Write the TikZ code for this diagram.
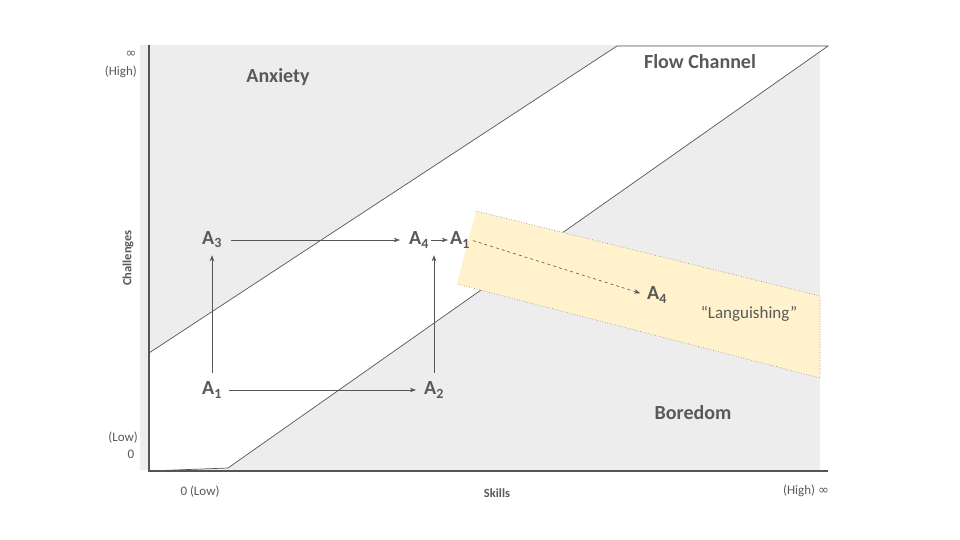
\documentclass[tikz,border=0pt]{standalone}
\usepackage{fontspec}
\setmainfont{Carlito}
\newfontfamily\symfont{DejaVu Sans}
\usetikzlibrary{positioning,arrows.meta}
\definecolor{FlowGray}{RGB}{237,237,237}
\definecolor{FlowText}{RGB}{89,89,89}
\definecolor{FlowLine}{RGB}{85,85,85}
\definecolor{LangYellow}{RGB}{255,242,204}

\begin{document}
\begin{tikzpicture}[
    x=1pt, y=-1pt,
    zone/.style={
        font=\fontsize{20}{22}\selectfont\bfseries,
        text=FlowText
    },
    state/.style={
        font=\fontsize{20}{22}\selectfont\bfseries,
        text=FlowText,
        inner sep=1pt
    },
    axlabel/.style={
        font=\fontsize{13}{14}\selectfont,
        text=FlowText,
        inner sep=1pt
    },
    axtitle/.style={
        font=\fontsize{12.5}{14}\selectfont\bfseries,
        text=FlowText,
        inner sep=1pt
    },
    move/.style={
        -{Stealth[length=6pt,width=4.5pt]},
        draw=FlowLine,
        line width=0.6pt
    }
]

\useasboundingbox (0,0) rectangle (960,540);
\fill[white] (0,0) rectangle (960,540);

% regions
\fill[FlowGray] (140,45) rectangle (820,470);
\fill[white] (149,353) -- (617,46) -- (828,46) -- (228,468) -- (149,471) -- cycle;
\draw[FlowLine, line width=0.7pt] (149,353) -- (617,46) -- (828,46) -- (228,468) -- (149,471);

% languishing band
\fill[LangYellow] (476,211) -- (820,296) -- (820,378) -- (457,284) -- cycle;
\draw[gray, dotted, line width=0.6pt] (476,211) -- (820,296) -- (820,378) -- (457,284);

% axes
\draw[FlowLine, line width=1.6pt] (149,45) -- (149,471) -- (828,471);

\node[zone] (anxiety) at (278,77) {Anxiety};
\node[zone] (flowch) at (700,62) {Flow Channel};
\node[zone] (boredom) at (693,413) {Boredom};
\node[axlabel, font=\fontsize{17}{19}\selectfont] (lang) at (749,314) {“Languishing”};

\node[state] (a3up) at (212,240) {A\textsubscript{3}};
\node[state] (a4up) at (419,240) {A\textsubscript{4}};
\node[state] (a1up) at (460,240) {A\textsubscript{1}};
\node[state] (a1lo) at (212,390) {A\textsubscript{1}};
\node[state] (a2lo) at (434,390) {A\textsubscript{2}};
\node[state] (a4lang) at (657,295) {A\textsubscript{4}};

\node[axlabel] (ymax) at (131,54) {\symfont\fontsize{13}{14}\selectfont ∞};
\node[axlabel, anchor=east] (yhigh) at (138,72) {(High)};
\node[axlabel, anchor=east] (ylow) at (139,438) {(Low)};
\node[axlabel] (yzero) at (131,454) {0};
\node[axlabel] (xlow) at (200,492) {0 (Low)};
\node[axlabel] (xhigh) at (806,491) {(High) {\symfont\fontsize{13}{14}\selectfont ∞}};
\node[axtitle, rotate=90] (ylabel) at (128,258) {Challenges};
\node[axtitle] (xlabel) at (497,493) {Skills};

\draw[move, shorten <=8pt, shorten >=8pt] (a3up) -- (a4up);
\draw[move, shorten <=1pt, shorten >=1pt] (a4up) -- (a1up);
\draw[move, shorten <=6pt, shorten >=7pt] (a1lo) -- (a2lo);
\draw[move, shorten <=8pt, shorten >=6pt] (a1lo.north) -- (a3up.south);
\draw[move, shorten <=8pt, shorten >=6pt] (a2lo.north) -- (a2lo.north |- a4up.south);
\draw[move, dashed, shorten <=2pt, shorten >=6pt] (a1up.east) -- (a4lang.west);

\end{tikzpicture}
\end{document}
